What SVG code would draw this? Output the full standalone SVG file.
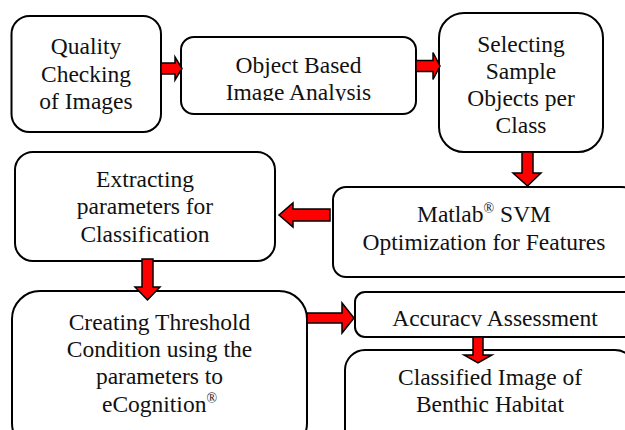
<svg xmlns="http://www.w3.org/2000/svg" width="625" height="430" viewBox="0 0 625 430">
<style>
.box{fill:#fff;stroke:#000;stroke-width:2}
.t{font-family:"Times New Roman","Liberation Serif",Tinos,"DejaVu Serif",serif;font-size:23.5px;fill:#111;text-anchor:middle}
.sup{font-size:14px}
.arr{fill:#ff0000;stroke:#000;stroke-width:1.5;stroke-linejoin:miter}
</style>
<defs>
<clipPath id="c2"><rect x="0" y="0" width="625" height="101"/></clipPath>
<clipPath id="c7"><rect x="0" y="0" width="625" height="326.5"/></clipPath>
</defs>
<rect width="625" height="430" fill="#fff"/>
<g id="n1"><rect class="box" x="11.5" y="16" width="149.5" height="116" rx="18"/>
<text class="t" x="86" y="54">Quality</text><text class="t" x="86" y="81.5">Checking</text><text class="t" x="86" y="108.5">of Images</text></g>
<g id="n2"><rect class="box" x="181" y="37" width="235" height="77" rx="13"/>
<text class="t" x="298.5" y="72.5">Object Based</text><text class="t" x="298.5" y="100" clip-path="url(#c2)">Image Analysis</text></g>
<g id="n3"><rect class="box" x="439" y="13" width="164" height="139" rx="25"/>
<text class="t" x="521" y="51.5">Selecting</text><text class="t" x="521" y="78.5">Sample</text><text class="t" x="521" y="106">Objects per</text><text class="t" x="521" y="133">Class</text></g>
<g id="n4"><rect class="box" x="333" y="187" width="302" height="90" rx="13"/>
<text class="t" x="484" y="221.5">Matlab<tspan class="sup" dy="-9">®</tspan><tspan dy="9"> SVM</tspan></text><text class="t" x="484" y="250">Optimization for Features</text></g>
<g id="n5"><rect class="box" x="15" y="152" width="260" height="109" rx="18"/>
<text class="t" x="145" y="186.5">Extracting</text><text class="t" x="145" y="214">parameters for</text><text class="t" x="145" y="241.5">Classification</text></g>
<g id="n6"><rect class="box" x="12" y="291" width="295" height="160" rx="28"/>
<text class="t" x="159.5" y="330">Creating Threshold</text><text class="t" x="159.5" y="357">Condition using the</text><text class="t" x="159.5" y="384">parameters to</text><text class="t" x="159.5" y="411.5">eCognition<tspan class="sup" dy="-9">®</tspan></text></g>
<g id="n7"><rect class="box" x="355" y="292" width="280" height="45" rx="10"/>
<text class="t" x="495" y="325.5" clip-path="url(#c7)">Accuracy Assessment</text></g>
<g id="n8"><rect class="box" x="345" y="350" width="290" height="100" rx="20"/>
<text class="t" x="490" y="385">Classified Image of</text><text class="t" x="490" y="411.5">Benthic Habitat</text></g>
<g id="connectors">
<polygon class="arr" points="161,63 175,63 175,57 182,68.5 175,80 175,74 161,74"/>
<polygon class="arr" points="416,60.5 433,60.5 433,52.5 440,66 433,79.5 433,71.5 416,71.5"/>
<polygon class="arr" points="522,152 533,152 533,173 541,173 527.5,186 513,173 522,173"/>
<polygon class="arr" points="330,209 293,209 293,203 279,215 293,227 293,221 330,221"/>
<polygon class="arr" points="142,259 153,259 153,287 160,287 147.5,300 135,287 142,287"/>
<polygon class="arr" points="307,313 342,313 342,303 354,318 342,333 342,323 307,323"/>
<polygon class="arr" points="473,337 483,337 483,355 492,355 478,363 464,355 473,355"/>
</g>
</svg>
